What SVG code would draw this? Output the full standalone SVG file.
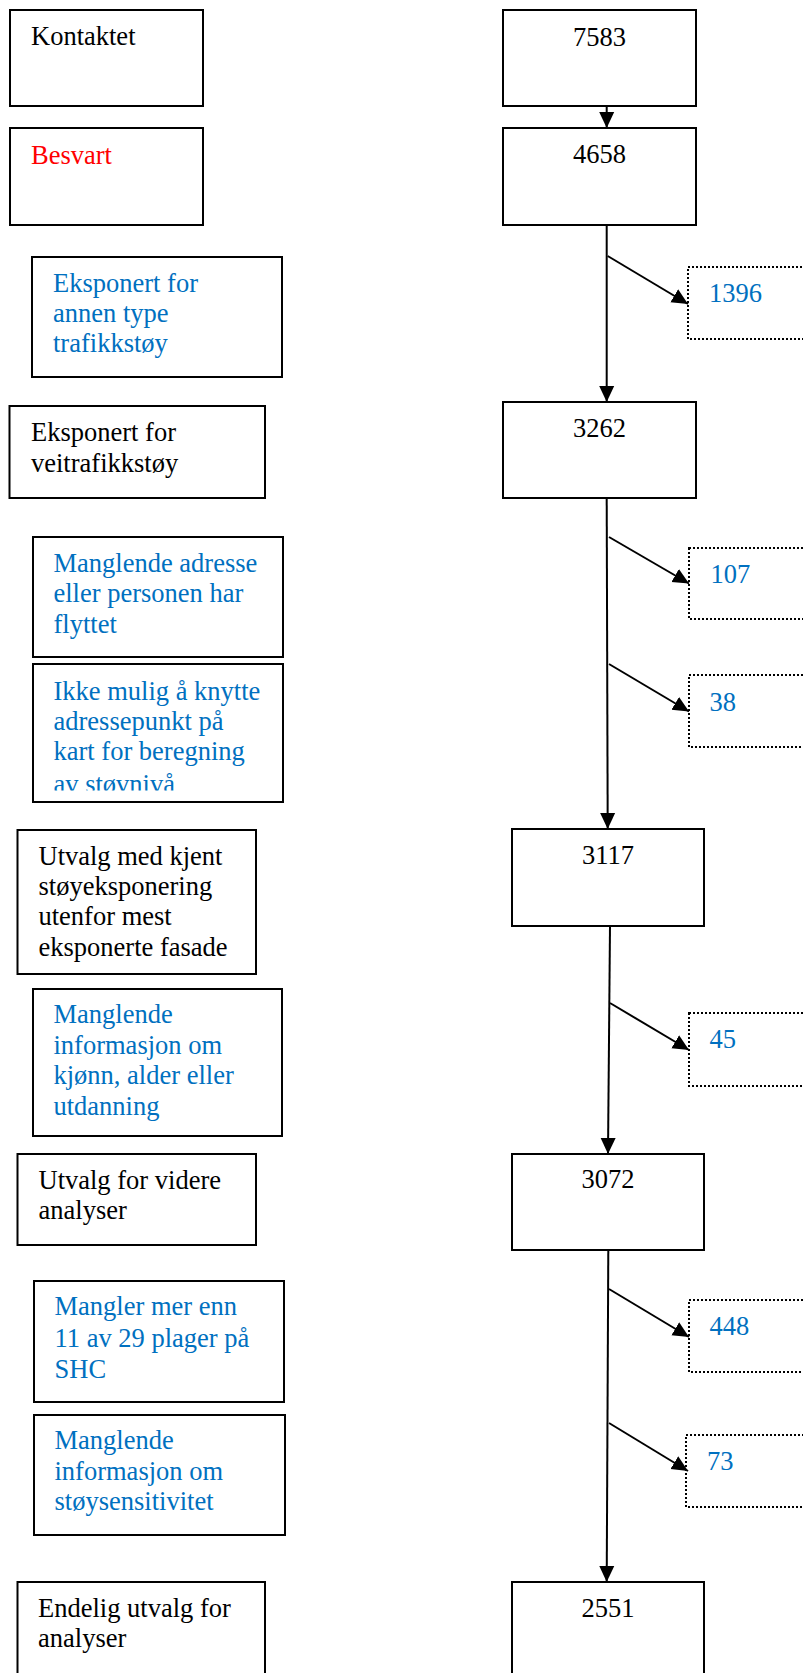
<svg xmlns="http://www.w3.org/2000/svg" width="803" height="1673" viewBox="0 0 803 1673">
  <style>
    .box { fill: #ffffff; stroke: #000000; stroke-width: 2; }
    .drop { fill: #ffffff; stroke: #000000; stroke-width: 2; stroke-dasharray: 2 2; }
    .conn { fill: none; stroke: #000000; stroke-width: 2; marker-end: url(#arrow); }
    text { font-family: "Liberation Serif", "Times New Roman", serif; font-size: 26.5px; }
    .dark { fill: #000000; }
    .blue { fill: #0070C0; }
    .red { fill: #FF0000; }
    .num { text-anchor: middle; }
  </style>
  <defs>
    <marker id="arrow" markerUnits="userSpaceOnUse" markerWidth="17" markerHeight="17" viewBox="0 0 17 17" refX="16" refY="8.5" orient="auto">
      <path d="M0,1 L16,8.5 L0,16 Z" fill="#000000"/>
    </marker>
    <clipPath id="clip-ikke">
      <rect x="33" y="664" width="250" height="126.5"/>
    </clipPath>
  </defs>
  <rect width="803" height="1673" fill="#ffffff"/>

  <!-- left column: stage labels and exclusion reasons -->
  <g id="kontaktet">
    <rect class="box" x="10" y="10" width="193" height="96"/>
    <text class="dark" x="31" y="45">Kontaktet</text>
  </g>
  <g id="besvart">
    <rect class="box" x="10" y="128" width="193" height="97"/>
    <text class="red" x="31" y="164">Besvart</text>
  </g>
  <g id="annen-type">
    <rect class="box" x="32" y="257" width="250" height="120"/>
    <text class="blue" x="53" y="292">Eksponert for</text>
    <text class="blue" x="53" y="322">annen type</text>
    <text class="blue" x="53" y="352">trafikkstøy</text>
  </g>
  <g id="veitrafikk">
    <rect class="box" x="9.5" y="406" width="255.5" height="92"/>
    <text class="dark" x="31" y="441">Eksponert for</text>
    <text class="dark" x="31" y="472">veitrafikkstøy</text>
  </g>
  <g id="manglende-adresse">
    <rect class="box" x="33" y="537" width="250" height="120"/>
    <text class="blue" x="53.5" y="572">Manglende adresse</text>
    <text class="blue" x="53.5" y="602">eller personen har</text>
    <text class="blue" x="53.5" y="633">flyttet</text>
  </g>
  <g id="ikke-mulig">
    <rect class="box" x="33" y="664" width="250" height="138"/>
    <g clip-path="url(#clip-ikke)">
      <text class="blue" x="53.5" y="700">Ikke mulig å knytte</text>
      <text class="blue" x="53.5" y="730">adressepunkt på</text>
      <text class="blue" x="53.5" y="760">kart for beregning</text>
      <text class="blue" x="53.5" y="793">av støvnivå</text>
    </g>
  </g>
  <g id="kjent-stoy">
    <rect class="box" x="17.5" y="830" width="238.5" height="144"/>
    <text class="dark" x="38.5" y="865">Utvalg med kjent</text>
    <text class="dark" x="38.5" y="895">støyeksponering</text>
    <text class="dark" x="38.5" y="925">utenfor mest</text>
    <text class="dark" x="38.5" y="956">eksponerte fasade</text>
  </g>
  <g id="manglende-kjonn">
    <rect class="box" x="33" y="989" width="249" height="147"/>
    <text class="blue" x="53.5" y="1023">Manglende</text>
    <text class="blue" x="53.5" y="1054">informasjon om</text>
    <text class="blue" x="53.5" y="1084">kjønn, alder eller</text>
    <text class="blue" x="53.5" y="1115">utdanning</text>
  </g>
  <g id="videre-analyser">
    <rect class="box" x="17.5" y="1154" width="238.5" height="91"/>
    <text class="dark" x="38.5" y="1189">Utvalg for videre</text>
    <text class="dark" x="38.5" y="1219">analyser</text>
  </g>
  <g id="mangler-shc">
    <rect class="box" x="34" y="1281" width="250" height="121"/>
    <text class="blue" x="54.5" y="1315">Mangler mer enn</text>
    <text class="blue" x="54.5" y="1347">11 av 29 plager på</text>
    <text class="blue" x="54.5" y="1378">SHC</text>
  </g>
  <g id="manglende-sensitivitet">
    <rect class="box" x="34" y="1415" width="251" height="120"/>
    <text class="blue" x="54.5" y="1449">Manglende</text>
    <text class="blue" x="54.5" y="1480">informasjon om</text>
    <text class="blue" x="54.5" y="1510">støysensitivitet</text>
  </g>
  <g id="endelig-utvalg">
    <rect class="box" x="17.5" y="1582" width="247.5" height="130"/>
    <text class="dark" x="38" y="1617">Endelig utvalg for</text>
    <text class="dark" x="38" y="1647">analyser</text>
  </g>

  <!-- right column: counts -->
  <g id="n7583">
    <rect class="box" x="503" y="10" width="193" height="96"/>
    <text class="dark num" x="599.5" y="46">7583</text>
  </g>
  <g id="n4658">
    <rect class="box" x="503" y="128" width="193" height="97"/>
    <text class="dark num" x="599.5" y="163">4658</text>
  </g>
  <g id="n3262">
    <rect class="box" x="503" y="402" width="193" height="96"/>
    <text class="dark num" x="599.5" y="437">3262</text>
  </g>
  <g id="n3117">
    <rect class="box" x="512" y="829" width="192" height="97"/>
    <text class="dark num" x="608" y="864">3117</text>
  </g>
  <g id="n3072">
    <rect class="box" x="512" y="1154" width="192" height="96"/>
    <text class="dark num" x="608" y="1188">3072</text>
  </g>
  <g id="n2551">
    <rect class="box" x="512" y="1582" width="192" height="130"/>
    <text class="dark num" x="608" y="1617">2551</text>
  </g>

  <!-- excluded counts (dotted) -->
  <g id="x1396">
    <rect class="drop" x="688" y="267" width="140" height="72"/>
    <text class="blue" x="709" y="302">1396</text>
  </g>
  <g id="x107">
    <rect class="drop" x="689" y="548" width="140" height="71"/>
    <text class="blue" x="710.5" y="583">107</text>
  </g>
  <g id="x38">
    <rect class="drop" x="689" y="675" width="140" height="72"/>
    <text class="blue" x="709.5" y="711">38</text>
  </g>
  <g id="x45">
    <rect class="drop" x="689" y="1013" width="140" height="73"/>
    <text class="blue" x="709.5" y="1048">45</text>
  </g>
  <g id="x448">
    <rect class="drop" x="689" y="1300" width="140" height="72"/>
    <text class="blue" x="709.5" y="1335">448</text>
  </g>
  <g id="x73">
    <rect class="drop" x="686" y="1435" width="140" height="72"/>
    <text class="blue" x="707" y="1470">73</text>
  </g>

  <!-- connectors -->
  <g id="connectors">
    <line class="conn" x1="606.7" y1="106" x2="606.7" y2="128"/>
    <line class="conn" x1="606.7" y1="225" x2="606.7" y2="402"/>
    <line class="conn" x1="606.7" y1="498" x2="607.7" y2="829"/>
    <line class="conn" x1="610" y1="926" x2="608" y2="1154"/>
    <line class="conn" x1="608.3" y1="1250" x2="606.7" y2="1582"/>
    <line class="conn" x1="607.7" y1="256" x2="688" y2="304"/>
    <line class="conn" x1="609" y1="537" x2="689" y2="583.5"/>
    <line class="conn" x1="609" y1="664" x2="689" y2="711.5"/>
    <line class="conn" x1="610" y1="1003" x2="689" y2="1050"/>
    <line class="conn" x1="609" y1="1289" x2="689" y2="1337"/>
    <line class="conn" x1="609" y1="1423" x2="688" y2="1471"/>
  </g>
</svg>
